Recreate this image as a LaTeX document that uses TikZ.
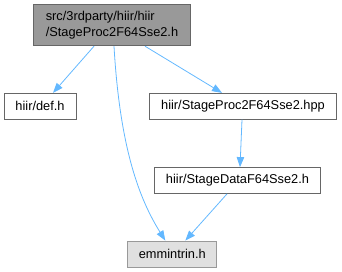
\documentclass[tikz,border=0pt]{standalone}
\usepackage{fontspec}
\setmainfont{Liberation Sans}
\usetikzlibrary{arrows.meta,positioning}

\definecolor{edgeblue}{HTML}{63B8FF}

\begin{document}
\begin{tikzpicture}[
    x=1pt, y=-1pt,
    font=\fontsize{12.8}{16}\selectfont,
    filebox/.style={draw=black!60, fill=white, rectangle, minimum height=26pt, inner sep=0pt, line width=0.8pt},
    rootbox/.style={filebox, fill=black!40, align=left, minimum height=41pt},
    sysbox/.style={filebox, draw=black!40, fill=black!12},
    edge/.style={draw=edgeblue, line width=0.8pt, -{Triangle[length=10pt,width=7.5pt]}}
]
    \useasboundingbox (0,0) rectangle (342,272);

    % Included file
    \node[rootbox, minimum width=157pt] (root) at (112,25.3) {src/3rdparty/hiir/hiir\\/StageProc2F64Sse2.h};

    % Direct includes
    \node[filebox, minimum width=72pt] (def) at (40,106.3) {hiir/def.h};
    \node[filebox, minimum width=187pt] (proc) at (243,106.3) {hiir/StageProc2F64Sse2.hpp};
    \node[filebox, minimum width=166pt] (data) at (237.5,180.5) {hiir/StageDataF64Sse2.h};

    % System header
    \node[sysbox, minimum width=89pt] (emm) at (172.3,254) {emmintrin.h};

    % Connections
    \draw[edge] ([xshift=-18pt]root.south) -- ([xshift=13pt]def.north);
    \draw[edge] ([xshift=33pt]root.south) -- ([xshift=-21pt]proc.north);
    \draw[edge] ([xshift=2pt]root.south) .. controls (120,150) and (140,200) .. ([xshift=-7pt]emm.north);
    \draw[edge] ([xshift=-1pt]proc.south) -- ([xshift=2.5pt]data.north);
    \draw[edge] ([xshift=-10.5pt]data.south) -- ([xshift=13pt]emm.north);

\end{tikzpicture}
\end{document}
